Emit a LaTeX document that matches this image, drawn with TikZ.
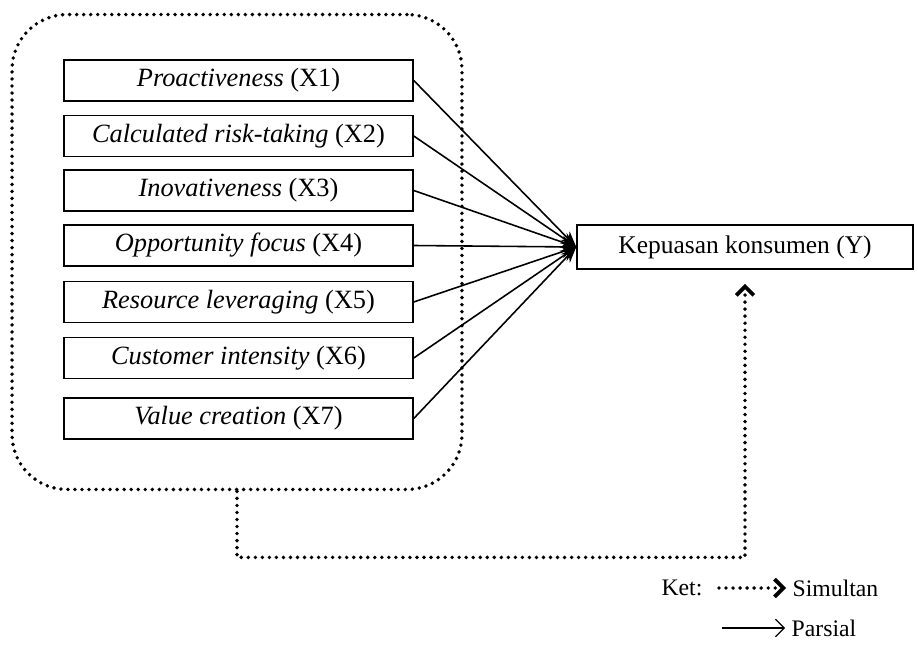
\documentclass[tikz,border=0pt]{standalone}
\usepackage{fontspec}
\setmainfont{Liberation Serif}
\usetikzlibrary{arrows.meta,positioning}

\begin{document}
\begin{tikzpicture}[
  x=0.02cm,
  y=-0.02cm,
  line width=0.9pt,
  font=\fontsize{14.5}{16}\selectfont,
  varbox/.style={
    draw,
    minimum width=6.98cm,
    minimum height=0.82cm,
    inner sep=0pt,
    font=\fontsize{15}{17}\selectfont
  },
  simultan/.style={
    line width=2.2pt,
    line cap=round,
    dash pattern=on 0pt off 4pt
  },
  simultan tip/.style={
    -{Straight Barb[length=5pt,width=10pt,line width=2.2pt]}
  },
  parsial/.style={
    -{Stealth[length=9pt,width=7pt]}
  },
  ketlabel/.style={
    font=\fontsize{13.5}{15}\selectfont
  }
]
  \useasboundingbox (0,0) rectangle (918,648);
  \node[draw,simultan,rounded corners=1.1cm,minimum width=9cm,
    minimum height=9.5cm] (group) at (237,252) {};
  \node[varbox] (x1) at (238.5,80.5) {\textit{Proactiveness} (X1)};
  \node[varbox] (x2) at (238.5,136) {\textit{Calculated risk-taking} (X2)};
  \node[varbox] (x3) at (238.5,190.5) {\textit{Inovativeness} (X3)};
  \node[varbox] (x4) at (238.5,245.5) {\textit{Opportunity focus} (X4)};
  \node[varbox] (x5) at (238.5,302) {\textit{Resource leveraging} (X5)};
  \node[varbox] (x6) at (238.5,358) {\textit{Customer intensity} (X6)};
  \node[varbox] (x7) at (238.5,418.5) {\textit{Value creation} (X7)};
  \node[varbox,font=\fontsize{14.5}{16}\selectfont,minimum width=6.72cm,
    minimum height=0.88cm] (y) at (745,247) {Kepuasan konsumen (Y)};
  \foreach \i in {1,...,7}
    \draw[parsial] (x\i.east) -- (y.west);
  \draw[simultan,simultan tip] (group.south) -- ++(0,66)
    -| ([yshift=-0.28cm]y.south);
  % keterangan
  \node[ketlabel,anchor=east] (ket) at (709,588) {Ket:};
  \node[ketlabel,anchor=west] (simul) at (786,588) {Simultan};
  \node[ketlabel,anchor=west] (pars) at (785,628) {Parsial};
  \coordinate (p0) at (722,628);
  \draw[simultan,simultan tip] ([xshift=0.2cm]ket.east) -- (simul.west);
  \draw[line width=0.7pt,-{Straight Barb[length=5pt,width=10pt]}] (p0)
    -- (pars.west);
\end{tikzpicture}
\end{document}
